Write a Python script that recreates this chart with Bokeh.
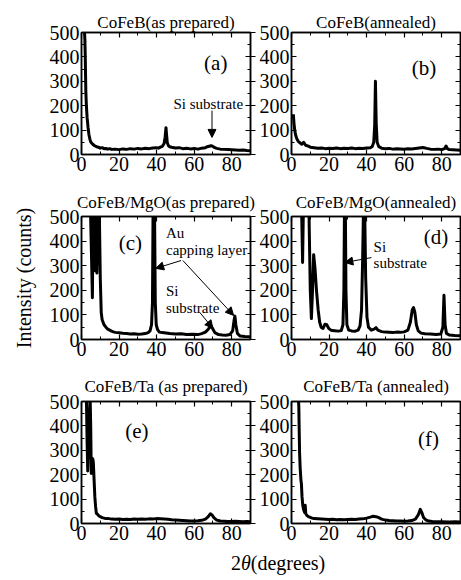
from bokeh.plotting import figure
from bokeh.models import Range1d, LinearAxis, FixedTicker, Label, Arrow, NormalHead, Div
from bokeh.layouts import column, row
from bokeh.embed import file_html
from bokeh.resources import INLINE

FONT = "'Liberation Serif', 'Times New Roman', serif"

# ---- tick values ----
x_ticks = [0, 20, 40, 60, 80]
x_minor = [10, 30, 50, 70, 90]
y_ticks = [0, 100, 200, 300, 400, 500]
y_minor = [50, 150, 250, 350, 450]

# ---- panel titles / tags ----
titles = ["CoFeB(as prepared)", "CoFeB(annealed)",
          "CoFeB/MgO(as prepared)", "CoFeB/MgO(annealed)",
          "CoFeB/Ta (as prepared)", "CoFeB/Ta (annealed)"]
tags = ["(a)", "(b)", "(c)", "(d)", "(e)", "(f)"]

# ---- scans: (2theta, counts) ----
scan_a = [(1.5, 520), (1.8, 470), (2.0, 400), (2.3, 260), (2.6, 200), (3.0, 150), (3.5, 110),
          (4.0, 80), (4.5, 62), (5.0, 50), (6, 42), (7, 36), (8, 32), (9, 30), (10, 26), (11, 28),
          (12, 24), (13, 25), (14, 22), (15, 24), (16, 21), (18, 22), (20, 20), (22, 23), (24, 21),
          (26, 24), (28, 22), (30, 25), (32, 23), (34, 26), (36, 24), (38, 27), (40, 28), (41, 26),
          (42, 30), (43, 33), (44, 45), (44.5, 70), (45.0, 110), (45.3, 80), (45.7, 48), (46.3, 36),
          (47, 32), (48, 30), (50, 27), (52, 28), (54, 24), (56, 26), (58, 23), (60, 25), (62, 22),
          (64, 26), (66, 28), (67, 32), (68, 34), (69, 36), (70, 33), (71, 28), (72, 25), (74, 22),
          (76, 21), (78, 20), (80, 19), (82, 18), (84, 17), (86, 18), (88, 16), (90, 15)]

scan_b = [(1.0, 165), (1.3, 130), (1.7, 100), (2.2, 80), (2.8, 65), (3.5, 55), (4.5, 48), (5.5, 42),
          (6.5, 50), (7.5, 38), (9, 34), (10, 30), (12, 28), (14, 26), (16, 27), (18, 24), (20, 26),
          (22, 25), (24, 27), (26, 24), (28, 26), (30, 25), (32, 27), (34, 24), (36, 26), (38, 25),
          (40, 27), (42, 28), (43, 33), (43.8, 50), (44.3, 120), (44.7, 300), (45.1, 130), (45.6, 50),
          (46.5, 32), (48, 26), (50, 24), (52, 25), (54, 22), (56, 24), (58, 23), (60, 22), (62, 24),
          (64, 23), (66, 25), (68, 27), (70, 29), (72, 25), (74, 22), (76, 21), (78, 22), (80, 20),
          (81.5, 24), (82.3, 35), (83, 24), (84, 20), (86, 19), (88, 18), (90, 17)]

scan_c = [(4.8, 520), (5.3, 350), (5.8, 170), (6.2, 520), (6.7, 300), (7.0, 280), (7.4, 520),
          (7.9, 290), (8.2, 270), (8.6, 520), (9.1, 310), (9.5, 520), (10.0, 250), (10.5, 110),
          (11.0, 80), (12, 60), (13, 50), (14, 42), (15, 38), (16, 34), (17, 31), (18, 29), (20, 27),
          (22, 25), (24, 24), (26, 22), (28, 23), (30, 21), (32, 22), (34, 24), (35.5, 28), (36.5, 35),
          (37.3, 60), (37.8, 150), (38.1, 520), (38.9, 520), (39.3, 150), (39.8, 60), (40.5, 40),
          (41.5, 30), (43, 28), (45, 26), (47, 24), (50, 22), (53, 23), (56, 20), (59, 21), (62, 20),
          (64, 24), (66, 30), (67.5, 42), (68.8, 55), (69.8, 45), (71, 28), (73, 20), (75, 18),
          (77, 17), (79, 20), (80.5, 35), (81.3, 80), (81.7, 95), (82.2, 60), (83, 25), (84.5, 14),
          (87, 12), (90, 11)]

scan_d = [(5.4, 520), (5.9, 313), (6.3, 520), (9.3, 520), (10.0, 200), (10.6, 85), (11.2, 200),
          (11.8, 345), (12.5, 290), (13.3, 200), (14.2, 120), (15.0, 70), (15.8, 50), (16.8, 45),
          (17.8, 62), (18.8, 60), (19.8, 45), (21, 38), (23, 36), (25, 34), (26.5, 36), (27.4, 60),
          (27.9, 200), (28.2, 520), (28.7, 520), (29.0, 200), (29.5, 60), (30.5, 38), (32, 35),
          (34, 34), (35.5, 38), (36.5, 55), (37.3, 120), (37.9, 330), (38.3, 520), (39.0, 520),
          (39.5, 250), (40.2, 90), (41, 50), (42.5, 38), (44, 42), (45, 48), (46, 38), (48, 32),
          (50, 30), (52, 29), (54, 28), (56, 30), (58, 29), (60, 31), (62, 38), (63.3, 70),
          (64.3, 120), (65.0, 130), (65.7, 110), (66.5, 60), (67.5, 35), (69, 26), (71, 23), (74, 22),
          (77, 20), (79.5, 22), (80.6, 50), (81.2, 180), (81.8, 60), (82.5, 25), (84, 18), (87, 16),
          (90, 15)]

scan_e = [(2.6, 520), (3.0, 330), (3.3, 215), (3.7, 330), (4.2, 450), (4.6, 520), (4.9, 400),
          (5.2, 205), (5.6, 240), (6.0, 265), (6.3, 250), (6.7, 180), (7.1, 110), (7.5, 70),
          (7.9, 42), (8.5, 38), (9.2, 32), (10, 28), (11, 24), (12, 22), (13, 20), (14, 21), (16, 18),
          (18, 17), (20, 18), (22, 16), (24, 17), (26, 16), (28, 18), (30, 17), (32, 18), (34, 17),
          (36, 19), (38, 18), (40, 20), (42, 19), (44, 18), (46, 17), (48, 15), (50, 14), (52, 13),
          (54, 12), (56, 11), (58, 10), (60, 10), (62, 11), (64, 13), (66, 18), (67.5, 28),
          (68.6, 40), (69.5, 35), (70.5, 24), (72, 14), (74, 10), (76, 9), (78, 8), (80, 8), (82, 9),
          (84, 8), (86, 7), (88, 8), (90, 7)]

scan_f = [(3.6, 520), (3.9, 480), (4.1, 380), (4.3, 290), (4.6, 230), (5.0, 180), (5.3, 160),
          (5.6, 110), (6.0, 75), (6.5, 55), (7.0, 45), (7.3, 75), (7.6, 40), (8.2, 33), (9, 28),
          (10, 25), (11, 22), (12, 20), (14, 19), (16, 18), (18, 17), (20, 16), (22, 17), (24, 15),
          (26, 16), (28, 15), (30, 16), (32, 17), (34, 16), (36, 18), (38, 19), (40, 22), (42, 26),
          (43.5, 30), (45, 28), (46.5, 24), (48, 18), (50, 14), (52, 12), (54, 11), (56, 10),
          (58, 10), (60, 9), (62, 10), (64, 12), (66, 18), (67.5, 35), (68.6, 58), (69.4, 45),
          (70.3, 25), (71.5, 15), (73, 10), (75, 8), (78, 7), (80, 7), (84, 6), (87, 7), (90, 6)]

scans = [scan_a, scan_b, scan_c, scan_d, scan_e, scan_f]


def style_axis(ax, ticks, minor, labels, tick_out=0):
    ax.ticker = FixedTicker(ticks=ticks, minor_ticks=minor)
    ax.axis_line_color = "black"
    ax.axis_line_width = 1.5
    ax.major_tick_line_color = "black"
    ax.major_tick_line_width = 1.2
    ax.minor_tick_line_color = "black"
    ax.minor_tick_line_width = 1.0
    ax.major_tick_in = 5
    ax.major_tick_out = tick_out
    ax.minor_tick_in = 3
    ax.minor_tick_out = 0
    if labels:
        ax.major_label_text_font = FONT
        ax.major_label_text_font_size = "20px"
        ax.major_label_text_color = "black"
        ax.major_label_standoff = 2
    else:
        ax.major_label_overrides = {t: "" for t in ticks}
        ax.major_label_text_font_size = "0px"
        ax.major_label_standoff = 0


def make_panel(i, width, height, btop, bbottom, title_standoff, ylabel=None):
    left_col = (i % 2 == 0)
    p = figure(width=width, height=height, x_range=Range1d(0, 90), y_range=Range1d(0, 500),
               output_backend="svg", toolbar_location=None,
               x_axis_location=None, y_axis_location=None,
               min_border_left=81 if left_col else 35,
               min_border_right=6 if left_col else 1,
               min_border_top=btop, min_border_bottom=bbottom,
               title=titles[i])
    p.title.text_font = FONT
    p.title.text_font_size = "17px"
    p.title.text_font_style = "normal"
    p.title.text_color = "black"
    p.title.align = "center"
    p.title.standoff = title_standoff
    p.xgrid.visible = False
    p.ygrid.visible = False
    p.outline_line_color = "black"
    p.outline_line_width = 1.5
    p.background_fill_color = "white"
    p.border_fill_color = "white"

    bottom = LinearAxis()
    style_axis(bottom, x_ticks, x_minor, True)
    top = LinearAxis()
    style_axis(top, x_ticks, x_minor, False)
    left = LinearAxis()
    style_axis(left, y_ticks, y_minor, True)
    right = LinearAxis()
    style_axis(right, y_ticks, y_minor, False, tick_out=5 if left_col else 0)
    if ylabel:
        left.axis_label = ylabel
        left.axis_label_text_font = FONT
        left.axis_label_text_font_size = "20px"
        left.axis_label_text_font_style = "normal"
        left.axis_label_text_color = "black"
        left.axis_label_standoff = 12
    p.add_layout(bottom, "below")
    p.add_layout(top, "above")
    p.add_layout(left, "left")
    p.add_layout(right, "right")

    xs = [pt[0] for pt in scans[i]]
    ys = [pt[1] for pt in scans[i]]
    p.line(xs, ys, line_color="black", line_width=3, line_join="round")
    return p


def tag(p, text, x, y):
    p.add_layout(Label(x=x, y=y, text=text, text_font=FONT, text_font_size="21px",
                       text_color="black", text_align="center", text_baseline="middle"))


def note(p, text, x, y):
    p.add_layout(Label(x=x, y=y, text=text, text_font=FONT, text_font_size="15px",
                       text_color="black", text_align="left", text_baseline="middle"))


def arrow(p, x0, y0, x1, y1):
    p.add_layout(Arrow(end=NormalHead(size=8, fill_color="black", line_color="black", line_width=1),
                       x_start=x0, y_start=y0, x_end=x1, y_end=y1,
                       line_color="black", line_width=1))


LW, RW = 256, 205
pa = make_panel(0, LW, 184, 32, 30, 2)
pb = make_panel(1, RW, 184, 32, 30, 2)
pc = make_panel(2, LW, 183, 32, 28, 9, ylabel="Intensity (counts)")
pd = make_panel(3, RW, 183, 32, 28, 9)
pe = make_panel(4, LW, 184, 34, 28, 12)
pf = make_panel(5, RW, 184, 34, 28, 12)

tag(pa, tags[0], 71.5, 377)
tag(pb, tags[1], 70.5, 356)
tag(pc, tags[2], 26, 394)
tag(pd, tags[3], 77, 415)
tag(pe, tags[4], 29.5, 381)
tag(pf, tags[5], 73, 348)

note(pa, "Si substrate", 49, 209)
arrow(pa, 69.5, 180, 69.5, 70)

note(pc, "Au", 45, 431)
note(pc, "capping layer", 45, 362)
note(pc, "Si", 45, 199)
note(pc, "substrate", 45, 130)
arrow(pc, 53, 321, 39.5, 289)
arrow(pc, 54, 321, 81, 98)
arrow(pc, 63, 110, 70, 45)

note(pd, "Si", 43.7, 374)
note(pd, "substrate", 43.7, 313)
arrow(pd, 42.6, 333, 28.4, 313)

xlabel = Div(text="<span style=\"font-family:'Liberation Serif','Times New Roman',serif;"
                  "font-size:20px;color:black\">2<i>&theta;</i>(degrees)</span>",
             width=461, height=26, margin=0,
             styles={"font-family": "'Liberation Serif', 'Times New Roman', serif",
                     "font-size": "20px", "color": "black",
                     "padding-left": "231px", "padding-top": "2px",
                     "line-height": "20px", "box-sizing": "border-box"})

layout = column(row(pa, pb, spacing=0), row(pc, pd, spacing=0), row(pe, pf, spacing=0), xlabel,
                spacing=0)

open("out.html", "w").write(file_html(layout, INLINE))
